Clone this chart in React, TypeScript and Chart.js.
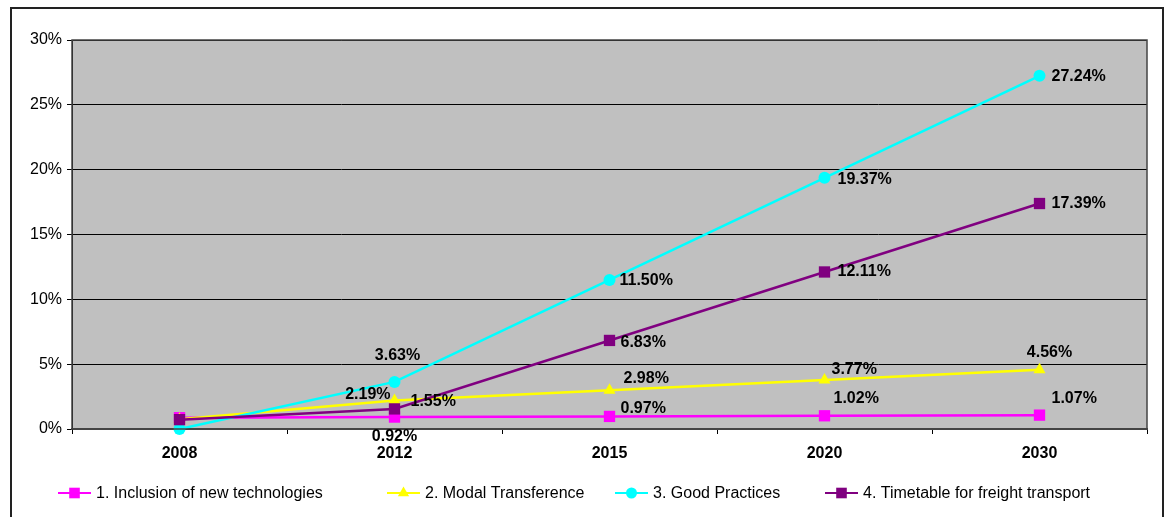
import { useEffect, useRef } from "react";
import { Chart, registerables } from "chart.js";

Chart.register(...registerables);

const categories = ["2008", "2012", "2015", "2020", "2030"];
const newTechnologies = [0.87, 0.92, 0.97, 1.02, 1.07];
const modalTransference = [0.75, 2.19, 2.98, 3.77, 4.56];
const goodPractices = [0, 3.63, 11.5, 19.37, 27.24];
const freightTimetable = [0.72, 1.55, 6.83, 12.11, 17.39];
const seriesNames = [
  "1. Inclusion of new technologies",
  "2. Modal Transference",
  "3. Good Practices",
  "4. Timetable for freight transport",
];
const yMin = 0;
const yMax = 30;
const yStep = 5;

const FONT = "'Liberation Sans', Arial, Helvetica, sans-serif";

type LabelPos = { dx: number; dy: number; align: CanvasTextAlign } | null;

// label placement (styling only): per series, per category
const labelPlacement: LabelPos[][] = [
  [null, { dx: 0, dy: 20, align: "center" }, { dx: 11, dy: -8, align: "left" }, { dx: 9, dy: -17, align: "left" }, { dx: 12, dy: -17, align: "left" }],
  [null, { dx: -4, dy: -6, align: "right" }, { dx: 14, dy: -12, align: "left" }, { dx: 7, dy: -11, align: "left" }, { dx: 10, dy: -17, align: "center" }],
  [null, { dx: 3, dy: -26, align: "center" }, { dx: 10, dy: 1, align: "left" }, { dx: 13, dy: 2, align: "left" }, { dx: 12, dy: 1, align: "left" }],
  [null, { dx: 16, dy: -7, align: "left" }, { dx: 11, dy: 2, align: "left" }, { dx: 13, dy: 0, align: "left" }, { dx: 12, dy: 0, align: "left" }],
];

const colors = ["#FF00FF", "#FFFF00", "#00FFFF", "#800080"];
const pointStyles = ["rect", "triangle", "circle", "rect"];
const pointRadii = [8, 7, 6, 8];
const legendX = [58, 387, 615, 825];

function drawMarker(ctx: CanvasRenderingContext2D, style: string, x: number, y: number, r: number, color: string) {
  ctx.save();
  ctx.fillStyle = color;
  ctx.beginPath();
  if (style === "rect") {
    const s = Math.SQRT1_2 * r;
    ctx.rect(x - s, y - s, 2 * s, 2 * s);
  } else if (style === "circle") {
    ctx.arc(x, y, r, 0, Math.PI * 2);
  } else {
    ctx.moveTo(x, y - r);
    ctx.lineTo(x + r * 0.866, y + r * 0.5);
    ctx.lineTo(x - r * 0.866, y + r * 0.5);
    ctx.closePath();
  }
  ctx.fill();
  ctx.restore();
}

const framePlugin = {
  id: "frame",
  beforeDraw(chart: any) {
    const { ctx, chartArea, width, height } = chart;
    ctx.save();
    ctx.fillStyle = "#FFFFFF";
    ctx.fillRect(0, 0, width, height);
    ctx.strokeStyle = "#222222";
    ctx.lineWidth = 2;
    ctx.strokeRect(11, 8, width - 14, height + 20);
    ctx.fillStyle = "#C0C0C0";
    ctx.fillRect(chartArea.left, chartArea.top, chartArea.right - chartArea.left, chartArea.bottom - chartArea.top);
    ctx.restore();
  },
  afterDatasetsDraw(chart: any) {
    const { ctx, chartArea } = chart;
    ctx.save();
    ctx.strokeStyle = "#444444";
    ctx.lineWidth = 1.5;
    ctx.strokeRect(chartArea.left, chartArea.top, chartArea.right - chartArea.left, chartArea.bottom - chartArea.top);
    ctx.restore();
    // data labels
    ctx.save();
    ctx.font = `bold 16px ${FONT}`;
    ctx.fillStyle = "#000000";
    ctx.textBaseline = "middle";
    chart.data.datasets.forEach((ds: any, di: number) => {
      const meta = chart.getDatasetMeta(di);
      meta.data.forEach((pt: any, i: number) => {
        const p = labelPlacement[di][i];
        if (!p) return;
        ctx.textAlign = p.align;
        ctx.fillText(`${(ds.data[i] as number).toFixed(2)}%`, pt.x + p.dx, pt.y + p.dy);
      });
    });
    ctx.restore();
  },
  afterDraw(chart: any) {
    const { ctx } = chart;
    const y = 493;
    ctx.save();
    ctx.font = `16px ${FONT}`;
    ctx.textBaseline = "middle";
    ctx.textAlign = "left";
    seriesNames.forEach((name, i) => {
      const x0 = legendX[i];
      ctx.strokeStyle = colors[i];
      ctx.lineWidth = 2;
      ctx.beginPath();
      ctx.moveTo(x0, y);
      ctx.lineTo(x0 + 33, y);
      ctx.stroke();
      drawMarker(ctx, pointStyles[i], x0 + 16.5, y, pointRadii[i] - 0.5, colors[i]);
      ctx.fillStyle = "#000000";
      ctx.fillText(name, x0 + 38, y + 1);
    });
    ctx.restore();
  },
};

export default function App() {
  const ref = useRef<HTMLCanvasElement | null>(null);
  useEffect(() => {
    if (!ref.current) return;
    const series = [newTechnologies, modalTransference, goodPractices, freightTimetable];
    const chart = new Chart(ref.current, {
      type: "line",
      data: {
        labels: categories,
        datasets: series.map((data, i) => ({
          label: seriesNames[i],
          data,
          borderColor: colors[i],
          backgroundColor: colors[i],
          borderWidth: 2.5,
          pointStyle: pointStyles[i] as any,
          pointRadius: pointRadii[i],
          pointHoverRadius: pointRadii[i],
          pointBorderWidth: 0,
          pointBackgroundColor: colors[i],
          pointBorderColor: colors[i],
          tension: 0,
          fill: false,
          order: 3 - i,
          clip: false as any,
        })),
      },
      options: {
        responsive: false,
        animation: false,
        events: [],
        layout: { padding: { top: 40, right: 19, left: 0, bottom: 0 } },
        plugins: {
          legend: { display: false },
          tooltip: { enabled: false },
          title: { display: false },
        },
        scales: {
          x: {
            offset: true,
            grid: {
              display: true,
              offset: true,
              drawOnChartArea: false,
              drawTicks: true,
              tickLength: 5,
              color: "#000000",
            },
            border: { display: true, color: "#444444", width: 2 },
            ticks: {
              color: "#000000",
              padding: 10,
              font: { family: FONT, size: 16, weight: "bold" },
            },
            afterFit(scale: any) {
              scale.height = 88;
            },
          },
          y: {
            min: yMin,
            max: yMax,
            grid: {
              color: "#000000",
              lineWidth: 1,
              drawTicks: true,
              tickLength: 5,
            },
            border: { display: true, color: "#000000", width: 1 },
            ticks: {
              stepSize: yStep,
              color: "#000000",
              padding: 5,
              font: { family: FONT, size: 16 },
              callback: (v: any) => `${v}%`,
            },
            afterFit(scale: any) {
              scale.width = 72;
            },
          },
        },
      },
      plugins: [framePlugin],
    });
    return () => chart.destroy();
  }, []);
  return (
    <div style={{ position: "absolute", left: 0, top: 0, width: 1166, height: 517 }}>
      <canvas ref={ref} width={1166} height={517} style={{ display: "block" }} />
    </div>
  );
}
